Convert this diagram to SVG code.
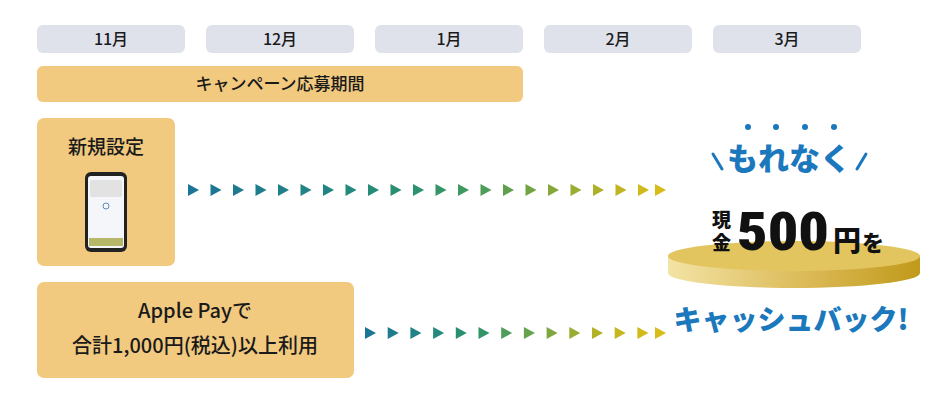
<svg xmlns="http://www.w3.org/2000/svg" width="950" height="400" viewBox="0 0 950 400">
<defs>
<style>
.m{fill:#dfe2ea}
.b{fill:#f1c97f}
.t{font-family:"Noto Sans CJK JP","Noto Sans",sans-serif;fill:#1a1a1a;font-weight:500}
.h{font-family:"Noto Sans CJK JP",sans-serif;fill:#111;font-weight:900}
.bl{font-family:"Noto Sans CJK JP",sans-serif;fill:#1b78bd;font-weight:900}
</style>
<linearGradient id="coin" x1="0" x2="1"><stop offset="0" stop-color="#f3e3a5"/><stop offset="0.6" stop-color="#d9b650"/><stop offset="1" stop-color="#c09a1a"/></linearGradient>
<path id="tri" d="M0,-6 L11,0 L0,6Z"/>
</defs>
<g id="months" class="t" font-size="16" text-anchor="middle">
<rect class="m" x="37" y="25" width="148" height="28" rx="6"/><text x="111" y="45">11月</text>
<rect class="m" x="206" y="25" width="148" height="28" rx="6"/><text x="280" y="45">12月</text>
<rect class="m" x="375" y="25" width="148" height="28" rx="6"/><text x="449" y="45">1月</text>
<rect class="m" x="544" y="25" width="148" height="28" rx="6"/><text x="618" y="45">2月</text>
<rect class="m" x="713" y="25" width="148" height="28" rx="6"/><text x="787" y="45">3月</text>
</g>
<g id="campaign"><rect class="b" x="37" y="66" width="486" height="36" rx="6"/><text class="t" x="280" y="90" font-size="17" text-anchor="middle">キャンペーン応募期間</text></g>
<g id="new">
<rect class="b" x="37" y="118" width="138" height="148" rx="7"/>
<text class="t" x="106" y="154" font-size="19" text-anchor="middle">新規設定</text>
<rect x="85" y="172" width="42" height="80" rx="6" fill="#222"/>
<rect x="88" y="176" width="36" height="72" rx="3" fill="#f4f6fa"/>
<rect x="90" y="180" width="32" height="17" rx="2" fill="#e2e2e2"/>
<circle cx="106" cy="206" r="3" fill="none" stroke="#5a8ac0"/>
<rect x="89" y="238" width="34" height="8" fill="#b7b76a"/>
</g>
<g id="apple">
<rect class="b" x="37" y="282" width="317" height="96" rx="7"/>
<text class="t" x="195" y="318" font-size="20" text-anchor="middle">Apple Payで</text>
<text class="t" x="195" y="353" font-size="20" text-anchor="middle">合計1,000円(税込)以上利用</text>
</g>
<g id="connectors">
<g>
<use href="#tri" x="188" y="190" fill="#1c7596"/><use href="#tri" x="210.5" y="190" fill="#1c7794"/><use href="#tri" x="233" y="190" fill="#1d7a91"/><use href="#tri" x="255.5" y="190" fill="#1e7d8d"/><use href="#tri" x="278" y="190" fill="#1f8089"/><use href="#tri" x="300.5" y="190" fill="#208385"/><use href="#tri" x="323" y="190" fill="#218681"/><use href="#tri" x="345.5" y="190" fill="#23897c"/><use href="#tri" x="368" y="190" fill="#258c77"/><use href="#tri" x="390.5" y="190" fill="#288f72"/><use href="#tri" x="413" y="190" fill="#2b926c"/><use href="#tri" x="435.5" y="190" fill="#339566"/><use href="#tri" x="458" y="190" fill="#3f9960"/><use href="#tri" x="480.5" y="190" fill="#4e9d58"/><use href="#tri" x="503" y="190" fill="#5fa04f"/><use href="#tri" x="525.5" y="190" fill="#72a445"/><use href="#tri" x="548" y="190" fill="#86a83b"/><use href="#tri" x="570.5" y="190" fill="#9aac32"/><use href="#tri" x="593" y="190" fill="#aeb029"/><use href="#tri" x="615.5" y="190" fill="#c0b422"/><use href="#tri" x="638" y="190" fill="#cfb91c"/><use href="#tri" x="655" y="190" fill="#d8bd1a"/>
</g>
<g>
<use href="#tri" x="365" y="333" fill="#1c7596"/><use href="#tri" x="387.7" y="333" fill="#1e7c8e"/><use href="#tri" x="410.4" y="333" fill="#208385"/><use href="#tri" x="433.1" y="333" fill="#23897c"/><use href="#tri" x="455.8" y="333" fill="#288f72"/><use href="#tri" x="478.5" y="333" fill="#339566"/><use href="#tri" x="501.2" y="333" fill="#4e9d58"/><use href="#tri" x="523.9" y="333" fill="#66a24b"/><use href="#tri" x="546.6" y="333" fill="#80a73e"/><use href="#tri" x="569.3" y="333" fill="#9aac32"/><use href="#tri" x="592" y="333" fill="#b2b127"/><use href="#tri" x="614.7" y="333" fill="#c6b61f"/><use href="#tri" x="637.4" y="333" fill="#d2ba1b"/><use href="#tri" x="655" y="333" fill="#d8bd1a"/>
</g>
</g>
<g id="reward">
<g fill="#1b78bd"><circle cx="748" cy="127" r="3"/><circle cx="776" cy="127" r="3"/><circle cx="805" cy="127" r="3"/><circle cx="834" cy="127" r="3"/></g>
<g stroke="#1b78bd" stroke-width="3" stroke-linecap="round"><line x1="713" y1="154" x2="722" y2="169"/><line x1="866" y1="154" x2="857" y2="169"/></g>
<text class="bl" x="789" y="170" font-size="31" text-anchor="middle">もれなく</text>
<path d="M668,256 L668,273 A126,15 0 0 0 920,273 L920,256Z" fill="url(#coin)"/>
<ellipse cx="794" cy="256" rx="126" ry="15" fill="#e2c55e"/>
<text class="h" x="712" y="227" font-size="19">現</text>
<text class="h" x="712" y="250" font-size="19">金</text>
<text class="h" x="737" y="250" font-size="54" style="font-family:'Roboto Condensed',Roboto,sans-serif" textLength="92" lengthAdjust="spacingAndGlyphs">500</text>
<text class="h" x="833" y="251" font-size="28">円</text>
<text class="h" x="862" y="251" font-size="22">を</text>
<text class="bl" x="791" y="330" font-size="28" text-anchor="middle">キャッシュバック!</text>
</g>
</svg>
